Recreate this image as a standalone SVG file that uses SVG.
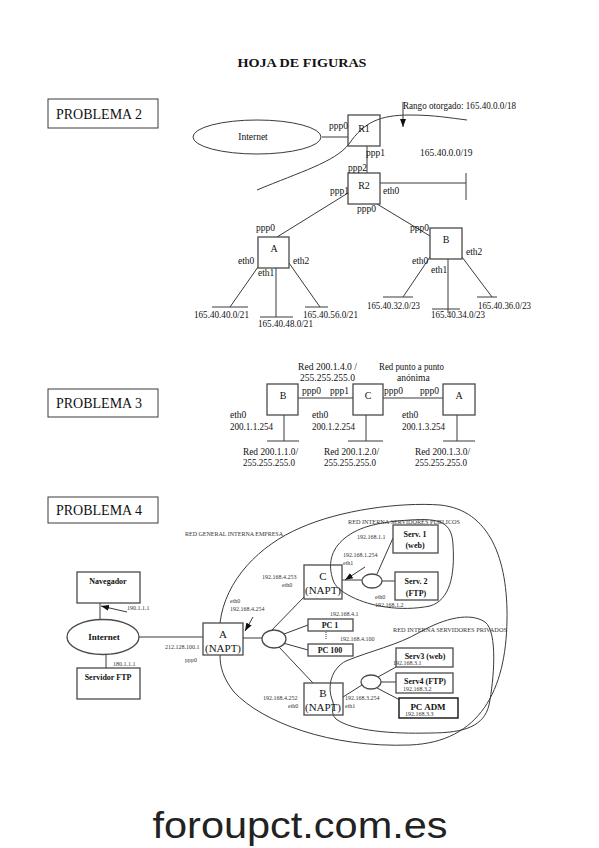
<svg xmlns="http://www.w3.org/2000/svg" width="599" height="848" viewBox="0 0 599 848">
<style>
.s{stroke:#3a3a3a;stroke-width:1;fill:none}
.b{stroke:#4a4a4a;stroke-width:1.3;fill:#fff}
.bk{stroke:#111;stroke-width:1.4;fill:#fff}
.t{font-family:"Liberation Serif","Times New Roman",serif;fill:#111}
.p2{font-size:9.5px}
.p4{font-size:6px;fill:#333}
.lb{font-size:8px;font-weight:bold;text-anchor:middle}
.nd{font-size:11px;text-anchor:middle}
.pb{font-size:14px}
</style>
<defs>
<marker id="ah" viewBox="0 0 8 6" refX="8" refY="3" markerWidth="8" markerHeight="6" markerUnits="userSpaceOnUse" orient="auto">
<path d="M0,0 L8,3 L0,6 z" fill="#111"/>
</marker>
</defs>
<rect width="599" height="848" fill="#fff"/>

<text class="t" x="302" y="67" font-size="13.5" font-weight="bold" text-anchor="middle" textLength="129" lengthAdjust="spacingAndGlyphs">HOJA DE FIGURAS</text>

<!-- PROBLEMA 2 -->
<g id="lbl-p2"><rect x="48" y="99" width="110" height="29" class="s"/><text class="t pb" x="56" y="119">PROBLEMA 2</text></g>

<g id="connectors-p2">
<path class="s" d="M322,137 H348"/>
<path class="s" d="M257,190 C300,172 335,162 349,144 C364,122 380,115 410,115 C435,115 450,118 467,120"/>
<path class="s" d="M403,102 V127" marker-end="url(#ah)"/>
<path class="s" d="M367,146 V173"/>
<path class="s" d="M380,183 H466 M466,173 V200"/>
<path class="s" d="M348,193 L277,237"/>
<path class="s" d="M377,204 L430,236"/>
<path class="s" d="M258,267 L230,307 M212,307 H248"/>
<path class="s" d="M276,268 V317 M260,317 H293"/>
<path class="s" d="M289,263 L320,307 M305,307 H328"/>
<path class="s" d="M430,257 L403,297 M383,297 H413"/>
<path class="s" d="M448,259 V313 M432,309 H460"/>
<path class="s" d="M462,257 L492,297 M477,297 H497"/>
</g>
<g id="internet-p2"><ellipse cx="257" cy="137" rx="64" ry="17" class="s"/><text class="t p2" x="253" y="140" text-anchor="middle">Internet</text></g>
<g id="R1"><rect x="348" y="115" width="32" height="31" class="b" fill-opacity="0"/><text class="t" x="364" y="132" font-size="10" text-anchor="middle">R1</text></g>
<g id="R2"><rect x="348" y="173" width="32" height="31" class="b"/><text class="t" x="364" y="189" font-size="10" text-anchor="middle">R2</text></g>
<g id="A2"><rect x="258" y="237" width="31" height="31" class="b"/><text class="t" x="274" y="252" font-size="10" text-anchor="middle">A</text></g>
<g id="B2"><rect x="430" y="228" width="32" height="31" class="b"/><text class="t" x="446" y="243" font-size="10" text-anchor="middle">B</text></g>
<g id="labels-p2" class="t p2">
<text x="403" y="109" textLength="113" lengthAdjust="spacingAndGlyphs">Rango otorgado: 165.40.0.0/18</text>
<text x="329" y="129">ppp0</text>
<text x="366" y="156">ppp1</text>
<text x="420" y="156">165.40.0.0/19</text>
<text x="348" y="171">ppp2</text>
<text x="330" y="194">ppp1</text>
<text x="383" y="194">eth0</text>
<text x="357" y="212">ppp0</text>
<text x="256" y="231">ppp0</text>
<text x="410" y="231">ppp0</text>
<text x="238" y="264">eth0</text>
<text x="258" y="276">eth1</text>
<text x="293" y="264">eth2</text>
<text x="412" y="264">eth0</text>
<text x="431" y="273">eth1</text>
<text x="466" y="255">eth2</text>
<text x="194" y="318" textLength="55" lengthAdjust="spacingAndGlyphs">165.40.40.0/21</text>
<text x="258" y="327" textLength="55" lengthAdjust="spacingAndGlyphs">165.40.48.0/21</text>
<text x="303" y="318" textLength="55" lengthAdjust="spacingAndGlyphs">165.40.56.0/21</text>
<text x="367" y="309" textLength="53" lengthAdjust="spacingAndGlyphs">165.40.32.0/23</text>
<text x="431" y="318" textLength="54" lengthAdjust="spacingAndGlyphs">165.40.34.0/23</text>
<text x="478" y="309" textLength="53" lengthAdjust="spacingAndGlyphs">165.40.36.0/23</text>
</g>

<!-- PROBLEMA 3 -->
<g id="lbl-p3"><rect x="48" y="389" width="110" height="28" class="s"/><text class="t pb" x="56" y="408">PROBLEMA 3</text></g>
<g id="connectors-p3">
<path class="s" d="M298,398 H353 M383,398 H443"/>
<path class="s" d="M284,415 V441 M267,441 H299"/>
<path class="s" d="M366,415 V441 M348,441 H383"/>
<path class="s" d="M457,415 V441 M443,441 H475"/>
</g>
<g id="B3"><rect x="267" y="384" width="31" height="31" class="b"/><text class="t" x="283" y="399" font-size="10" text-anchor="middle">B</text></g>
<g id="C3"><rect x="353" y="384" width="30" height="31" class="b"/><text class="t" x="368" y="399" font-size="10" text-anchor="middle">C</text></g>
<g id="A3"><rect x="443" y="384" width="32" height="31" class="b"/><text class="t" x="459" y="399" font-size="10" text-anchor="middle">A</text></g>
<g id="labels-p3" class="t p2">
<text x="298" y="370" textLength="59" lengthAdjust="spacingAndGlyphs">Red 200.1.4.0 /</text>
<text x="300" y="381" textLength="55" lengthAdjust="spacingAndGlyphs">255.255.255.0</text>
<text x="379" y="370" textLength="65" lengthAdjust="spacingAndGlyphs">Red punto a punto</text>
<text x="397" y="381">anónima</text>
<text x="302" y="394">ppp0</text>
<text x="330" y="394">ppp1</text>
<text x="384" y="394">ppp0</text>
<text x="420" y="394">ppp0</text>
<text x="230" y="418">eth0</text>
<text x="230" y="430" textLength="43" lengthAdjust="spacingAndGlyphs">200.1.1.254</text>
<text x="312" y="418">eth0</text>
<text x="312" y="430" textLength="43" lengthAdjust="spacingAndGlyphs">200.1.2.254</text>
<text x="402" y="418">eth0</text>
<text x="402" y="430" textLength="43" lengthAdjust="spacingAndGlyphs">200.1.3.254</text>
<text x="243" y="455" textLength="55" lengthAdjust="spacingAndGlyphs">Red 200.1.1.0/</text>
<text x="243" y="466" textLength="52" lengthAdjust="spacingAndGlyphs">255.255.255.0</text>
<text x="324" y="455" textLength="55" lengthAdjust="spacingAndGlyphs">Red 200.1.2.0/</text>
<text x="324" y="466" textLength="52" lengthAdjust="spacingAndGlyphs">255.255.255.0</text>
<text x="415" y="455" textLength="55" lengthAdjust="spacingAndGlyphs">Red 200.1.3.0/</text>
<text x="415" y="466" textLength="52" lengthAdjust="spacingAndGlyphs">255.255.255.0</text>
</g>

<!-- PROBLEMA 4 -->
<g id="lbl-p4"><rect x="48" y="497" width="110" height="26" class="s"/><text class="t pb" x="56" y="515">PROBLEMA 4</text></g>
<g id="connectors-p4">
<path class="s" d="M220,623 C225,580 260,545 300,528 C340,510 400,502 440,505 C490,510 508,560 507,620 C506,690 480,742 410,745 C330,748 262,722 234,692 C223,678 220,667 220,655"/>
<path class="s" d="M333,580 C328,565 330,550 345,538 C360,526 380,522 410,520 C440,518 452,522 453,545 C455,575 450,600 430,606 C400,612 370,606 352,597 C340,591 335,586 333,580 Z"/>
<path class="s" d="M333,702 C326,686 332,668 346,661 C370,651 398,645 420,632 C445,618 470,612 485,622 C498,632 494,680 489,705 C484,726 465,733 430,733 C392,734 352,731 336,719 C330,713 334,707 333,702 Z"/>
<path class="s" d="M100,603 V620"/>
<path class="s" d="M127,612 L101,606" marker-end="url(#ah)"/>
<path class="s" d="M106,655 V668"/>
<path class="s" d="M139,637 H203"/>
<path class="s" d="M253,617 L245,631" marker-end="url(#ah)"/>
<path class="s" d="M243,638 H262"/>
<path class="s" d="M270,632 L304,597"/>
<path class="s" d="M284,634 L308,625"/>
<path class="s" d="M283,643 L308,650"/>
<path class="s" d="M279,647 L313,683"/>
<path class="s" d="M326,632 V640" stroke-dasharray="1,1"/>
<path class="s" d="M365,567 L345,580" marker-end="url(#ah)"/>
<path class="s" d="M342,580 H362"/>
<path class="s" d="M377,574 L393,538"/>
<path class="s" d="M382,581 H395"/>
<path class="s" d="M343,697 L362,685"/>
<path class="s" d="M378,677 L396,667"/>
<path class="s" d="M381,682 H396"/>
<path class="s" d="M377,688 L400,700"/>
</g>
<g id="navegador"><rect x="77" y="572" width="63" height="31" class="b"/><text class="t lb" x="108" y="584">Navegador</text></g>
<g id="internet-p4"><ellipse cx="103" cy="637" rx="36" ry="17.5" class="b"/><text class="t" x="104" y="640" font-size="9" font-weight="bold" text-anchor="middle">Internet</text></g>
<g id="servidor-ftp"><rect x="77" y="668" width="63" height="31" class="b"/><text class="t lb" x="108" y="680">Servidor FTP</text></g>
<g id="A4"><rect x="203" y="623" width="40" height="32" class="b"/><text class="t nd" x="223" y="638">A</text><text class="t nd" x="223" y="652">(NAPT)</text></g>
<g id="sw1"><ellipse cx="274" cy="639" rx="12" ry="9" class="b"/></g>
<g id="C4"><rect x="304" y="565" width="38" height="34" class="b" fill-opacity="0"/><text class="t nd" x="323" y="580">C</text><text class="t nd" x="323" y="594">(NAPT)</text></g>
<g id="sw2"><ellipse cx="372" cy="581" rx="10" ry="7" class="b"/></g>
<g id="serv1"><rect x="393" y="525" width="45" height="28" class="b"/><text class="t lb" x="415" y="537">Serv. 1</text><text class="t lb" x="415" y="548">(web)</text></g>
<g id="serv2"><rect x="395" y="572" width="43" height="28" class="b"/><text class="t lb" x="416" y="584">Serv. 2</text><text class="t lb" x="416" y="596">(FTP)</text></g>
<g id="pc1"><rect x="308" y="619" width="45" height="12" class="b"/><text class="t lb" x="330" y="628">PC 1</text></g>
<g id="pc100"><rect x="308" y="644" width="45" height="12" class="b"/><text class="t lb" x="330" y="653">PC 100</text></g>
<g id="B4"><rect x="304" y="683" width="39" height="32" class="b" fill-opacity="0"/><text class="t nd" x="323" y="697">B</text><text class="t nd" x="323" y="711">(NAPT)</text></g>
<g id="sw3"><ellipse cx="371" cy="682" rx="10" ry="7" class="b"/></g>
<g id="serv3"><rect x="396" y="648" width="57" height="19" class="b"/><text class="t lb" x="425" y="659">Serv3 (web)</text><text class="t p4" x="393" y="665">192.168.3.1</text></g>
<g id="serv4"><rect x="396" y="673" width="57" height="20" class="b"/><text class="t lb" x="425" y="684">Serv4 (FTP)</text><text class="t p4" x="403" y="691">192.168.3.2</text></g>
<g id="pcadm"><rect x="399" y="698" width="59" height="20" class="bk"/><text class="t" x="428" y="710" font-size="9" font-weight="bold" text-anchor="middle">PC ADM</text><text class="t p4" x="405" y="716">192.168.3.3</text></g>
<g id="labels-p4" class="t p4">
<text x="127" y="610">190.1.1.1</text>
<text x="113" y="666">180.1.1.1</text>
<text x="165" y="649">212.128.100.1</text>
<text x="185" y="662">ppp0</text>
<text x="230" y="603">eth0</text>
<text x="230" y="611">192.168.4.254</text>
<text x="185" y="536" font-size="5.5" textLength="98" lengthAdjust="spacingAndGlyphs">RED GENERAL INTERNA EMPRESA</text>
<text x="348" y="524" font-size="5.5" textLength="112" lengthAdjust="spacingAndGlyphs">RED INTERNA SERVIDORES PUBLICOS</text>
<text x="393" y="632" font-size="5.5" textLength="114" lengthAdjust="spacingAndGlyphs">RED INTERNA SERVIDORES PRIVADOS</text>
<text x="262" y="579">192.168.4.253</text>
<text x="282" y="587">eth0</text>
<text x="343" y="557">192.168.1.254</text>
<text x="343" y="565">eth1</text>
<text x="357" y="539">192.168.1.1</text>
<text x="375" y="599">eth0</text>
<text x="375" y="607">192.168.1.2</text>
<text x="330" y="616">192.168.4.1</text>
<text x="340" y="641">192.168.4.100</text>
<text x="263" y="700">192.168.4.252</text>
<text x="288" y="708">eth0</text>
<text x="345" y="700">192.168.3.254</text>
<text x="345" y="708">eth1</text>
</g>

<text x="300" y="838" font-family="'Liberation Sans',Arial,sans-serif" font-size="37" fill="#222" text-anchor="middle" textLength="295" lengthAdjust="spacingAndGlyphs">foroupct.com.es</text>
</svg>
